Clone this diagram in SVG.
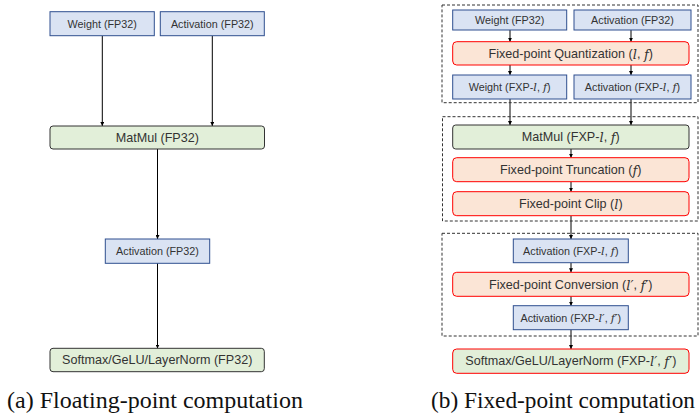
<svg xmlns="http://www.w3.org/2000/svg" width="699" height="415" viewBox="0 0 699 415">
<defs>
<marker id="ah" viewBox="0 0 8 8" refX="8" refY="4" markerWidth="4" markerHeight="4" orient="auto" markerUnits="userSpaceOnUse">
<path d="M0,0 L8,4 L0,8 z" fill="#000"/>
</marker>
<style>
.blue{fill:#dae3f3;stroke:#2f4f8f;stroke-width:1}
.green{fill:#e2efd9;stroke:#333;stroke-width:1}
.red{fill:#fbe5d6;stroke:#ff0000;stroke-width:1}
.redgreen{fill:#e2efd9;stroke:#ff0000;stroke-width:1}
.dash{fill:none;stroke:#333;stroke-width:1;stroke-dasharray:3,2}
.t{font-family:"Liberation Sans",Arial,sans-serif;font-size:10.8px;fill:#333;text-anchor:middle;dominant-baseline:central}
.tl{font-family:"Liberation Sans",Arial,sans-serif;font-size:12.6px;fill:#333;text-anchor:middle;dominant-baseline:central}
.m{font-family:"DejaVu Serif","Liberation Serif",serif;font-style:italic;font-size:1.05em}
.cap{font-family:"Liberation Serif","Times New Roman",serif;font-size:24px;fill:#111}
.capb{font-family:"Liberation Serif","Times New Roman",serif;font-size:23.3px;fill:#111}
.c{stroke:#000;stroke-width:1;fill:none;marker-end:url(#ah)}
</style>
</defs>
<rect width="699" height="415" fill="#fff"/>

<g id="connectors">
<line class="c" x1="102.3" y1="36" x2="102.3" y2="126"/>
<line class="c" x1="212.3" y1="36" x2="212.3" y2="126"/>
<line class="c" x1="157.5" y1="149" x2="157.5" y2="239"/>
<line class="c" x1="157.5" y1="263" x2="157.5" y2="348.5"/>

<line class="c" x1="510" y1="30" x2="510" y2="41.7"/>
<line class="c" x1="631" y1="30" x2="631" y2="41.7"/>
<line class="c" x1="510" y1="65" x2="510" y2="75"/>
<line class="c" x1="631" y1="65" x2="631" y2="75"/>
<line class="c" x1="510" y1="99" x2="510" y2="125"/>
<line class="c" x1="631" y1="99" x2="631" y2="125"/>
<line class="c" x1="571" y1="149" x2="571" y2="157.7"/>
<line class="c" x1="571" y1="181.7" x2="571" y2="191.7"/>
<line class="c" x1="571" y1="215.7" x2="571" y2="239"/>
<line class="c" x1="571" y1="262.7" x2="571" y2="272.3"/>
<line class="c" x1="571" y1="296.3" x2="571" y2="305.7"/>
<line class="c" x1="571" y1="329.7" x2="571" y2="349"/>
</g>

<g id="group1"><rect class="dash" x="442" y="5" width="256" height="97.7"/></g>
<g id="group2"><rect class="dash" x="442.5" y="116.7" width="255.5" height="104.3"/></g>
<g id="group3"><rect class="dash" x="442" y="233.3" width="256" height="102.7"/></g>

<g id="a-weight"><rect class="blue" x="50" y="11.7" width="104.3" height="24"/><text class="t" x="102.2" y="24">Weight (FP32)</text></g>
<g id="a-activation"><rect class="blue" x="160.3" y="11.7" width="104" height="24"/><text class="t" x="212.3" y="24">Activation (FP32)</text></g>
<g id="a-matmul"><rect class="green" x="50" y="126" width="214.5" height="23" rx="3"/><text class="tl" x="157.3" y="137.8">MatMul (FP32)</text></g>
<g id="a-act2"><rect class="blue" x="105.3" y="239" width="104.4" height="24.3"/><text class="t" x="157.5" y="251.3">Activation (FP32)</text></g>
<g id="a-softmax"><rect class="green" x="50" y="348.3" width="214.3" height="23.4" rx="3"/><text class="tl" x="157.2" y="360.2">Softmax/GeLU/LayerNorm (FP32)</text></g>

<g id="b-weight"><rect class="blue" x="452.7" y="10" width="114" height="20"/><text class="t" x="509.7" y="20.3">Weight (FP32)</text></g>
<g id="b-activation"><rect class="blue" x="574" y="10" width="117" height="20"/><text class="t" x="632.5" y="20.3">Activation (FP32)</text></g>
<g id="b-quant"><rect class="red" x="452.7" y="41.7" width="236.3" height="23.3" rx="4"/><text class="tl" x="570.8" y="53.6">Fixed-point Quantization (<tspan class="m">l</tspan>, <tspan class="m">f</tspan>)</text></g>
<g id="b-weight-fxp"><rect class="blue" x="452.7" y="75" width="114" height="24"/><text class="t" x="509.7" y="87.3">Weight (FXP-<tspan class="m">l</tspan>, <tspan class="m">f</tspan>)</text></g>
<g id="b-act-fxp"><rect class="blue" x="574" y="75" width="117" height="24"/><text class="t" x="632.5" y="87.3">Activation (FXP-<tspan class="m">l</tspan>, <tspan class="m">f</tspan>)</text></g>
<g id="b-matmul"><rect class="green" x="452.7" y="125" width="236.3" height="24" rx="3"/><text class="tl" x="570.8" y="137.3">MatMul (FXP-<tspan class="m">l</tspan>, <tspan class="m">f</tspan>)</text></g>
<g id="b-trunc"><rect class="red" x="452.7" y="157.7" width="236.3" height="24" rx="4"/><text class="tl" x="570.8" y="170">Fixed-point Truncation (<tspan class="m">f</tspan>)</text></g>
<g id="b-clip"><rect class="red" x="452.7" y="191.7" width="236.3" height="24" rx="4"/><text class="tl" x="570.8" y="204">Fixed-point Clip (<tspan class="m">l</tspan>)</text></g>
<g id="b-act3"><rect class="blue" x="513.3" y="239" width="115" height="23.7"/><text class="t" x="570.8" y="251.2">Activation (FXP-<tspan class="m">l</tspan>, <tspan class="m">f</tspan>)</text></g>
<g id="b-conv"><rect class="red" x="452.7" y="272.3" width="236.3" height="24" rx="4"/><text class="tl" x="570.8" y="284.6">Fixed-point Conversion (<tspan class="m">l′</tspan>, <tspan class="m">f′</tspan>)</text></g>
<g id="b-act4"><rect class="blue" x="513.3" y="305.7" width="115" height="24"/><text class="t" x="570.8" y="318">Activation (FXP-<tspan class="m">l′</tspan>, <tspan class="m">f′</tspan>)</text></g>
<g id="b-softmax"><rect class="redgreen" x="452.7" y="349" width="236.3" height="24.3" rx="4"/><text class="tl" x="570.8" y="361.4">Softmax/GeLU/LayerNorm (FXP-<tspan class="m">l′</tspan>, <tspan class="m">f′</tspan>)</text></g>

<text class="cap" x="7" y="408">(a) Floating-point computation</text>
<text class="capb" x="431" y="408">(b) Fixed-point computation</text>
</svg>
